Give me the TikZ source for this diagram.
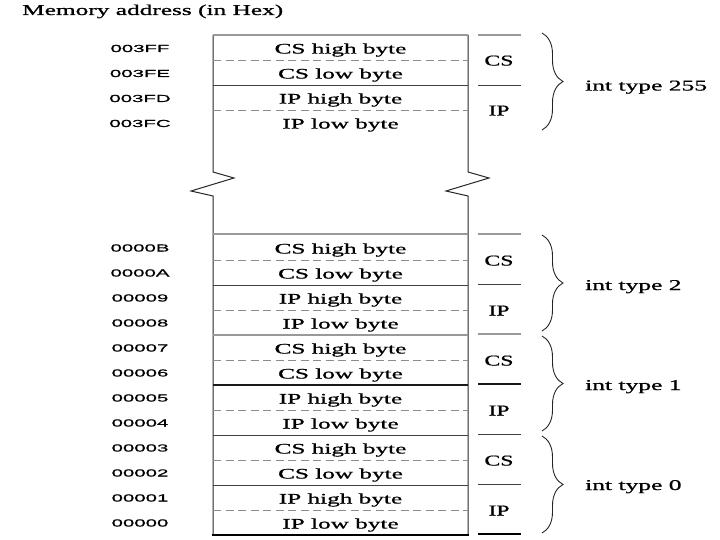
\documentclass[tikz,border=0pt]{standalone}
\usepackage{fontspec}
\usepackage{graphicx}
\setmainfont{Liberation Serif}[FakeBold=0.7]
\newfontfamily\addrfont{Liberation Sans}[FakeBold=0.5]
\newcommand{\wide}[2]{\scalebox{#1}[1]{#2}}
\usetikzlibrary{decorations.pathreplacing}
\begin{document}
\begin{tikzpicture}[x=1pt,y=-1pt,
  dark/.style={draw=black!85, line width=1pt},
  thin/.style={draw=black!75, line width=0.8pt},
  thick/.style={draw=black!90, line width=1.4pt},
  heavy/.style={draw=black, line width=2.2pt},
  grayline/.style={draw=black!40, line width=2pt},
  dashline/.style={draw=black!45, line width=0.8pt, dash pattern=on 8pt off 4.5pt},
  titlestyle/.style={font=\fontsize{15}{18}\selectfont, inner sep=0pt, anchor=base west},
  cell/.style={font=\fontsize{14.5}{16}\selectfont, inner sep=0pt, anchor=base},
  addr/.style={font=\addrfont\fontsize{10.2}{12}\selectfont, inner sep=0pt, anchor=base},
  lab/.style={font=\fontsize{15}{16}\selectfont, inner sep=0pt, anchor=base},
  inttype/.style={font=\fontsize{15}{17}\selectfont, inner sep=0pt, anchor=base west},
  brc/.style={draw=black!85, line width=0.9pt, decorate, decoration={brace, amplitude=21pt}}
]
\useasboundingbox[fill=white] (0,0) rectangle (720,540);

% title
\node[titlestyle] (title) at (22,15) {\resizebox{261pt}{\height}{Memory address (in Hex)}};

% box sides with break
\draw[dark] (213,35) -- (213,172) -- (234,178) -- (191,191) -- (213,196) -- (213,535);
\draw[dark] (468,35) -- (468,172) -- (489,178) -- (446,191) -- (468,196) -- (468,535);

% top section lines
\draw[grayline] (213,35) -- (468,35);
\draw[dashline] (213,60) -- (468,60);
\draw[thin] (213,85) -- (468,85);
\draw[dashline] (213,110) -- (468,110);

% bottom section lines
\draw[grayline] (213,234) -- (468,234);
\foreach \y in {260,310,360,410,460,510} \draw[dashline] (213,\y) -- (468,\y);
\draw[thin] (213,285) -- (468,285);
\draw[grayline] (213,335) -- (468,335);
\draw[thick] (213,385) -- (468,385);
\draw[thin] (213,435) -- (468,435);
\draw[thin] (213,485) -- (468,485);
\draw[heavy] (212,535) -- (469,535);

% right column lines
\draw[grayline] (478,35) -- (521,35);
\draw[thin] (478,85) -- (521,85);
\draw[grayline] (478,234) -- (521,234);
\draw[thin] (478,284) -- (521,284);
\draw[grayline] (478,334) -- (521,334);
\draw[thick] (478,384) -- (521,384);
\draw[thin] (478,434) -- (521,434);
\draw[thin] (478,484) -- (521,484);
\draw[heavy] (478,534) -- (521,534);

% top section text
\node[addr] (a3FF) at (140,52) {\wide{2}{003FF}};
\node[addr] (a3FE) at (140,77) {\wide{2}{003FE}};
\node[addr] (a3FD) at (140,102) {\wide{2}{003FD}};
\node[addr] (a3FC) at (140,127) {\wide{2}{003FC}};
\node[cell] (c3FF) at (340.5,53.5) {\wide{1.74}{CS high byte}};
\node[cell] (c3FE) at (340.5,78.5) {\wide{1.74}{CS low byte}};
\node[cell] (c3FD) at (340.5,103.5) {\wide{1.74}{IP high byte}};
\node[cell] (c3FC) at (340.5,128.5) {\wide{1.74}{IP low byte}};
\node[lab] (l255cs) at (499,65.5) {\wide{1.58}{CS}};
\node[lab] (l255ip) at (499,115.5) {\wide{1.58}{IP}};

% bottom section text
\foreach \a/\c [count=\i from 0] in {0000B/CS high byte,0000A/CS low byte,00009/IP high byte,00008/IP low byte,00007/CS high byte,00006/CS low byte,00005/IP high byte,00004/IP low byte,00003/CS high byte,00002/CS low byte,00001/IP high byte,00000/IP low byte}{
  \node[addr] (a\a) at (140,{251.5+25*\i}) {\wide{2}{\a}};
  \node[cell] (c\a) at (340.5,{253.5+25*\i}) {\wide{1.74}{\c}};
}
\foreach \t [count=\i from 0] in {2,1,0}{
  \node[lab] (lcs\t) at (499,{265.5+100*\i}) {\wide{1.58}{CS}};
  \node[lab] (lip\t) at (499,{315.5+100*\i}) {\wide{1.58}{IP}};
}

% braces
\draw[brc] (542,33) -- (542,130);
\draw[brc] (542,235) -- (542,331);
\draw[brc] (542,336) -- (542,431);
\draw[brc] (542,436) -- (542,533);

\node[inttype] (t255) at (585,90.5) {\wide{1.7}{int type 255}};
\node[inttype] (t2) at (585,290) {\wide{1.7}{int type 2}};
\node[inttype] (t1) at (585,390) {\wide{1.7}{int type 1}};
\node[inttype] (t0) at (585,490) {\wide{1.7}{int type 0}};
\end{tikzpicture}
\end{document}
